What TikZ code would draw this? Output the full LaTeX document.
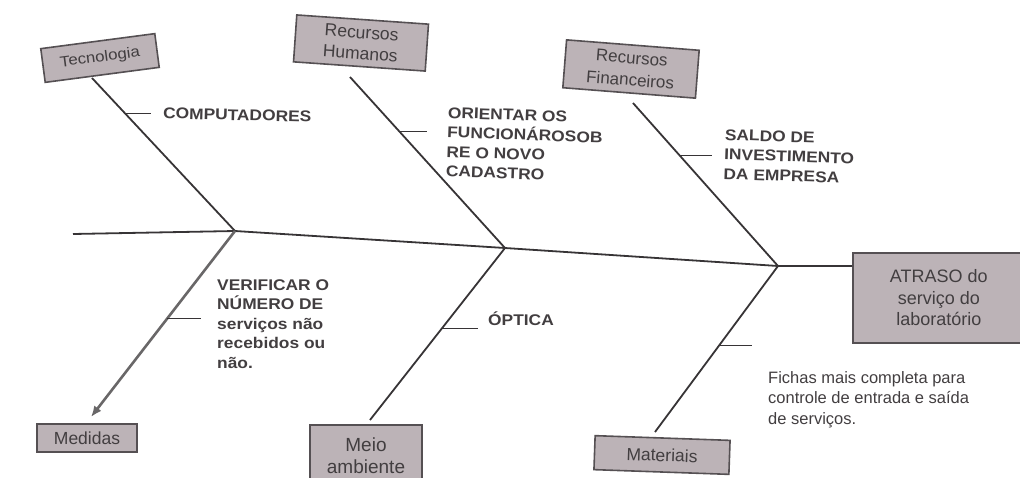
\documentclass[tikz,border=0pt]{standalone}
\usepackage{fontspec}
\setmainfont{Liberation Sans}
\newfontfamily\rotulo{Liberation Sans}[FakeStretch=1.12]
\usetikzlibrary{calc,positioning,arrows.meta}

\definecolor{caixa}{RGB}{188,179,183}
\definecolor{borda}{RGB}{85,80,83}
\definecolor{tinta}{RGB}{66,62,64}
\definecolor{traco}{RGB}{55,52,54}

\begin{document}
\begin{tikzpicture}[x=1pt,y=-1pt,
  causa/.style={draw=borda,line width=1.6pt,fill=caixa,text=tinta,inner sep=0pt,align=center,
    font=\fontsize{17.5}{21}\selectfont},
  osso/.style={draw=traco,line width=1.8pt},
  galho/.style={draw=traco,line width=1.3pt},
  nota/.style={text=tinta,inner sep=0pt,align=left,font=\rotulo\bfseries\fontsize{15.5}{19.5}\selectfont}
  ]
  \useasboundingbox (0,0) rectangle (1020,477);

  % efeito
  \node[causa,minimum width=172pt,minimum height=90pt,anchor=north west,
    font=\fontsize{18}{21.5}\selectfont] (atraso) at (852,252)
    {ATRASO do\\serviço do\\laboratório};

  % causas
  \node[causa,minimum width=115pt,minimum height=34pt,rotate=7.5,
    font=\rotulo\fontsize{15}{17}\selectfont] (tec) at (100,58) {Tecnologia};
  \node[causa,minimum width=132pt,minimum height=47pt,rotate=-4] (rh) at (361,43) {Recursos\\Humanos};
  \node[causa,minimum width=133pt,minimum height=48pt,rotate=-4.5,
    font=\fontsize{17}{22}\selectfont] (rf) at (631,69) {Recursos\\Financeiros};
  \node[causa,minimum width=100pt,minimum height=28pt] (med) at (87,438) {Medidas};
  \node[causa,minimum width=112pt,minimum height=62pt,font=\fontsize{19}{22}\selectfont] (meio) at (366,456) {Meio\\ambiente};
  \node[causa,minimum width=135pt,minimum height=34pt,rotate=-2] (mat) at (662,455) {Materiais};

  % espinha
  \coordinate (cauda) at (73,234);
  \coordinate (j1) at (235,231);
  \coordinate (j2) at (505,248);
  \coordinate (j3) at (778,266);
  \draw[osso] (cauda) -- (j1) -- (j2) -- (j3) -- (j3 -| atraso.west);

  % pontas das espinhas
  \coordinate (tec-p) at (92,78);
  \coordinate (rh-p) at (350,77);
  \coordinate (rf-p) at (633,103);
  \coordinate (med-p) at (91,417);
  \coordinate (meio-p) at (370,420);
  \coordinate (mat-p) at (655,432);

  \draw[osso] (tec-p) -- (j1);
  \draw[osso] (rh-p) -- (j2);
  \draw[osso] (rf-p) -- (j3);
  \draw[osso,draw=traco!75,line width=2.6pt,-{Latex[length=11pt,width=9pt]}] (j1) -- (med-p);
  \draw[osso] (j2) -- (meio-p);
  \draw[osso] (j3) -- (mat-p);

  % sub-causas
  \draw[galho] ($(tec-p)!0.23!(j1)$) -- ++(26,0);
  \draw[galho] ($(rh-p)!0.32!(j2)$) -- ++(27,0);
  \draw[galho] ($(rf-p)!0.32!(j3)$) -- ++(33,0);
  \draw[galho] ($(j1)!0.47!(med-p)$) -- ++(34,0);
  \draw[galho] ($(j2)!0.47!(meio-p)$) -- ++(36,0);
  \draw[galho] ($(j3)!0.48!(mat-p)$) -- ++(33,0);

  \node[nota,anchor=west,rotate=-1.5] (l-tec) at (163,113) {COMPUTADORES};
  \node[nota,anchor=north west,rotate=-2] (l-rh) at (448,107)
    {ORIENTAR OS\\FUNCIONÁROSOB\\RE O NOVO\\CADASTRO};
  \node[nota,anchor=north west,rotate=-2] (l-rf) at (725,129)
    {SALDO DE\\INVESTIMENTO\\DA EMPRESA};
  \node[nota,anchor=north west] (l-med) at (217,279)
    {VERIFICAR O\\NÚMERO DE\\serviços não\\recebidos ou\\não.};
  \node[nota,anchor=west] (l-meio) at (488,319) {ÓPTICA};
  \node[text=tinta,inner sep=0pt,align=left,anchor=north west,
    font=\fontsize{16.5}{20.5}\selectfont] (l-mat) at (768,371)
    {Fichas mais completa para\\controle de entrada e saída\\de serviços.};

\end{tikzpicture}
\end{document}
